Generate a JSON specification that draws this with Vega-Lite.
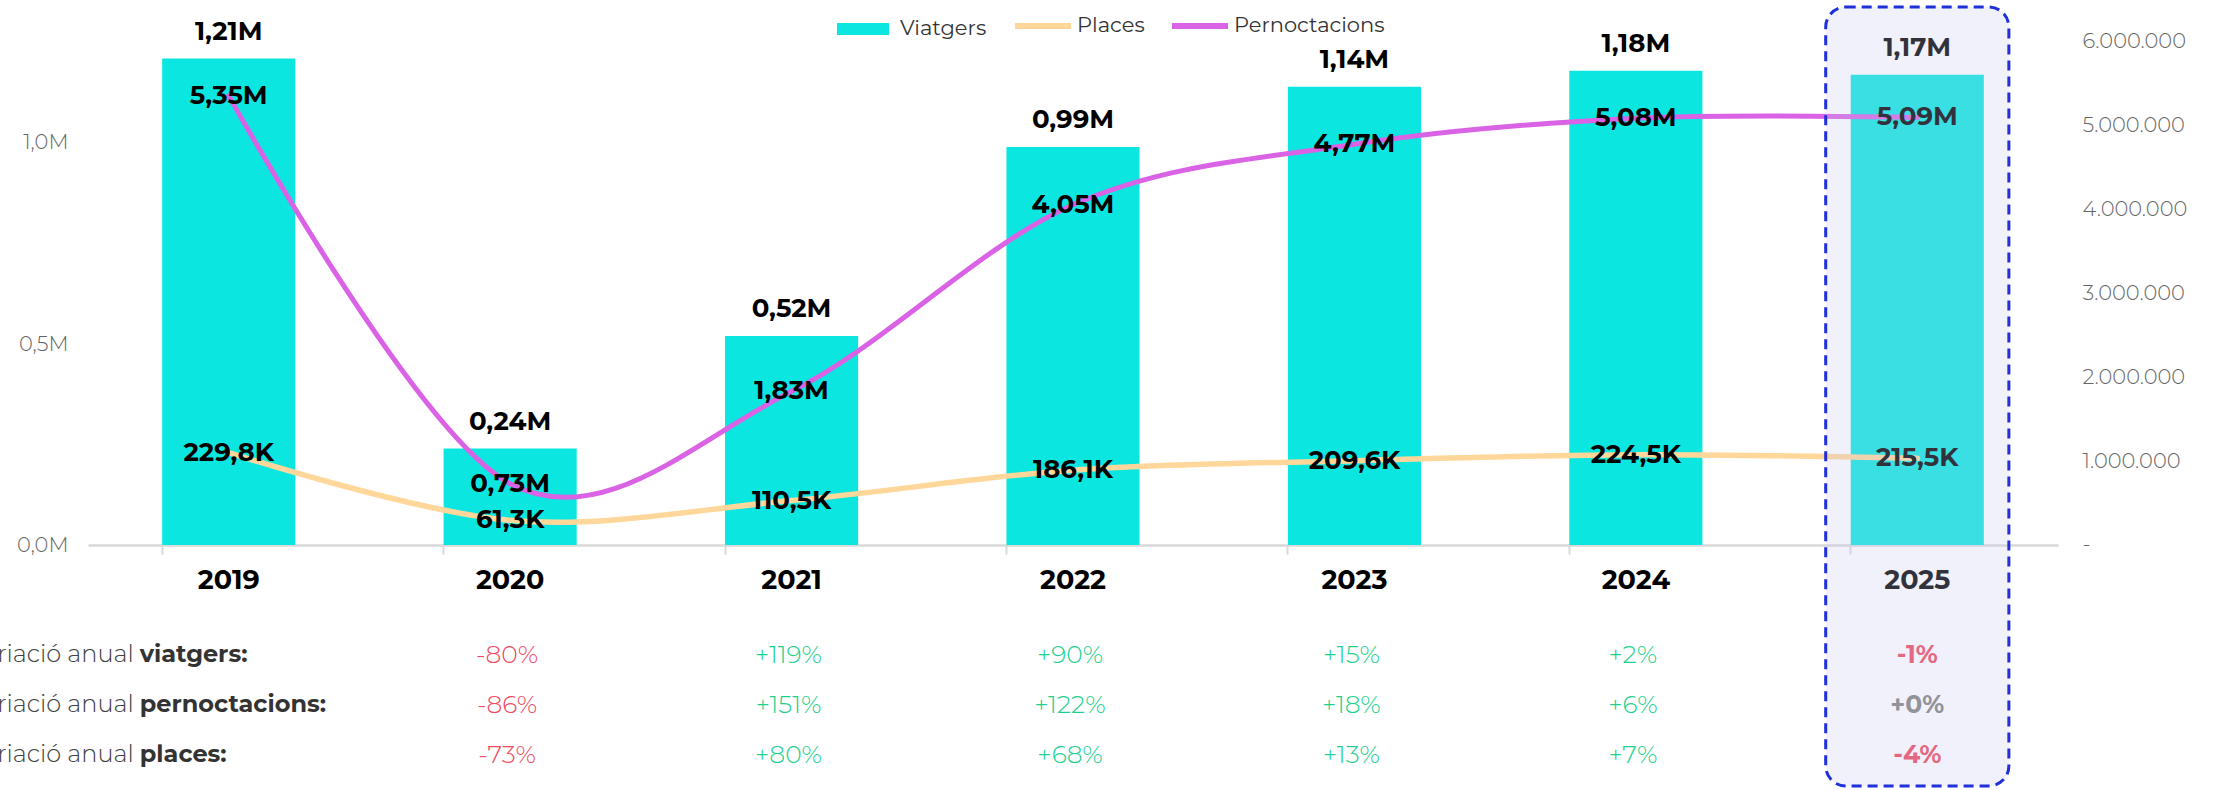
{
  "$schema": "https://vega.github.io/schema/vega-lite/v6.json",
  "width": 1970,
  "height": 790,
  "autosize": {"type": "none"},
  "padding": {"left": 88, "top": 0, "right": 155, "bottom": 0},
  "background": "white",
  "config": {
    "locale": {"number": {"decimal": ",", "thousands": ".", "grouping": [3], "currency": ["", " €"], "minus": "-"}},
    "view": {"stroke": null},
    "font": "Montserrat, Inter, sans-serif"
  },
  "datasets": {
    "main": [
      {"year": 2019, "viatgers": 1210000, "places": 229800, "pernoctacions": 5350000, "vl": "1,21M", "pl": "229,8K", "nl": "5,35M"},
      {"year": 2020, "viatgers": 240000, "places": 61300, "pernoctacions": 730000, "vl": "0,24M", "pl": "61,3K", "nl": "0,73M"},
      {"year": 2021, "viatgers": 520000, "places": 110500, "pernoctacions": 1830000, "vl": "0,52M", "pl": "110,5K", "nl": "1,83M"},
      {"year": 2022, "viatgers": 990000, "places": 186100, "pernoctacions": 4050000, "vl": "0,99M", "pl": "186,1K", "nl": "4,05M"},
      {"year": 2023, "viatgers": 1140000, "places": 209600, "pernoctacions": 4770000, "vl": "1,14M", "pl": "209,6K", "nl": "4,77M"},
      {"year": 2024, "viatgers": 1180000, "places": 224500, "pernoctacions": 5080000, "vl": "1,18M", "pl": "224,5K", "nl": "5,08M"},
      {"year": 2025, "viatgers": 1170000, "places": 215500, "pernoctacions": 5090000, "vl": "1,17M", "pl": "215,5K", "nl": "5,09M"}
    ],
    "table": [
      {"year": 2020, "fila": 1, "pct": -0.80},
      {"year": 2021, "fila": 1, "pct": 1.19},
      {"year": 2022, "fila": 1, "pct": 0.90},
      {"year": 2023, "fila": 1, "pct": 0.15},
      {"year": 2024, "fila": 1, "pct": 0.02},
      {"year": 2025, "fila": 1, "pct": -0.01},
      {"year": 2020, "fila": 2, "pct": -0.86},
      {"year": 2021, "fila": 2, "pct": 1.51},
      {"year": 2022, "fila": 2, "pct": 1.22},
      {"year": 2023, "fila": 2, "pct": 0.18},
      {"year": 2024, "fila": 2, "pct": 0.06},
      {"year": 2025, "fila": 2, "pct": 0.0},
      {"year": 2020, "fila": 3, "pct": -0.73},
      {"year": 2021, "fila": 3, "pct": 0.80},
      {"year": 2022, "fila": 3, "pct": 0.68},
      {"year": 2023, "fila": 3, "pct": 0.13},
      {"year": 2024, "fila": 3, "pct": 0.07},
      {"year": 2025, "fila": 3, "pct": -0.04}
    ],
    "rowlabels": [
      {"year": 2019, "fila": 1, "a": "Variació anual", "b": "viatgers:"},
      {"year": 2019, "fila": 2, "a": "Variació anual", "b": "pernoctacions:"},
      {"year": 2019, "fila": 3, "a": "Variació anual", "b": "places:"}
    ]
  },
  "data": {"name": "main"},
  "encoding": {
    "x": {
      "field": "year",
      "type": "ordinal",
      "scale": {"paddingInner": 0.527, "paddingOuter": 0.2635},
      "axis": {
        "title": null,
        "offset": -245,
        "labelAngle": 0,
        "domainColor": "#D9D9D9",
        "domainWidth": 2.5,
        "tickColor": "#D9D9D9",
        "tickWidth": 2,
        "tickSize": 9,
        "bandPosition": 0,
        "labelFontSize": 27,
        "labelFontWeight": "bold",
        "labelColor": "#000000",
        "labelPadding": 13
      }
    }
  },
  "layer": [
    {
      "layer": [
        {
          "mark": {"type": "bar"},
          "encoding": {
            "y": {
              "field": "viatgers",
              "type": "quantitative",
              "scale": {"domain": [-609450, 1355720], "nice": false, "zero": false},
              "axis": {
                "title": null,
                "values": [0, 500000, 1000000],
                "labelExpr": "format(datum.value / 1000000, '.1f') + 'M'",
                "domain": false,
                "ticks": false,
                "grid": false,
                "labelFontSize": 21,
                "labelFontWeight": 300,
                "labelColor": "#666666",
                "labelPadding": 20
              }
            },
            "fill": {
              "datum": "Viatgers",
              "type": "nominal",
              "scale": {"domain": ["Viatgers"], "range": ["#0BE7E0"]},
              "legend": {
                "orient": "none",
                "legendX": 743,
                "legendY": -3,
                "title": null,
                "padding": 0,
                "symbolType": "stroke",
                "symbolStrokeColor": "#0BE7E0",
                "symbolSize": 2704,
                "symbolStrokeWidth": 12,
                "labelFontSize": 21,
                "labelColor": "#333333",
                "labelOffset": 5
              }
            }
          }
        },
        {
          "mark": {"type": "text", "baseline": "alphabetic", "dy": -19, "fontSize": 26, "fontWeight": "bold", "color": "#000000"},
          "encoding": {
            "y": {"field": "viatgers", "type": "quantitative"},
            "text": {"field": "vl"}
          }
        },
        {
          "mark": {"type": "line", "interpolate": "cardinal", "strokeWidth": 5.5, "strokeCap": "round"},
          "encoding": {
            "y": {"field": "places", "type": "quantitative"},
            "stroke": {
              "datum": "Places",
              "type": "nominal",
              "scale": {"domain": ["Places", "Pernoctacions"], "range": ["#FFD79A", "#DA63E5"]},
              "legend": {
                "orient": "none",
                "legendX": 924,
                "legendY": -5,
                "direction": "horizontal",
                "title": null,
                "padding": 0,
                "symbolType": "stroke",
                "symbolSize": 3136,
                "symbolStrokeWidth": 6,
                "labelFontSize": 21,
                "labelColor": "#333333",
                "labelOffset": 3,
                "columnPadding": 15
              }
            }
          }
        },
        {
          "mark": {"type": "text", "baseline": "middle", "fontSize": 26, "fontWeight": "bold", "color": "#000000"},
          "encoding": {
            "y": {"field": "places", "type": "quantitative"},
            "text": {"field": "pl"}
          }
        }
      ]
    },
    {
      "layer": [
        {
          "mark": {"type": "line", "interpolate": "cardinal", "strokeWidth": 5, "strokeCap": "round"},
          "encoding": {
            "y": {
              "field": "pernoctacions",
              "type": "quantitative",
              "scale": {"domain": [-2916670, 6488100], "nice": false, "zero": false},
              "axis": {
                "orient": "right",
                "title": null,
                "values": [0, 1000000, 2000000, 3000000, 4000000, 5000000, 6000000],
                "labelExpr": "datum.value == 0 ? '-' : format(datum.value, ',d')",
                "domain": false,
                "ticks": false,
                "grid": false,
                "labelFontSize": 21,
                "labelFontWeight": 300,
                "labelColor": "#666666",
                "labelPadding": 24
              }
            },
            "stroke": {"datum": "Pernoctacions", "type": "nominal"}
          }
        },
        {
          "mark": {"type": "text", "baseline": "middle", "fontSize": 26, "fontWeight": "bold", "color": "#000000"},
          "encoding": {
            "y": {"field": "pernoctacions", "type": "quantitative"},
            "text": {"field": "nl"}
          }
        }
      ]
    },
    {
      "data": {"name": "table"},
      "encoding": {
        "y": {
          "field": "fila",
          "type": "quantitative",
          "scale": {"domain": [-12.1, 3.7], "reverse": true, "nice": false, "zero": false},
          "axis": null
        }
      },
      "layer": [
        {
          "transform": [{"filter": "datum.year != 2025"}],
          "mark": {"type": "text", "baseline": "middle", "dx": -3, "fontSize": 25, "fontWeight": 300},
          "encoding": {
            "text": {"field": "pct", "type": "quantitative", "format": "+.0%"},
            "color": {
              "condition": [
                {"test": "datum.pct < 0", "value": "#F04860"},
                {"test": "datum.pct > 0", "value": "#1DD18D"}
              ],
              "value": "#808080"
            }
          }
        },
        {
          "transform": [{"filter": "datum.year == 2025"}],
          "mark": {"type": "text", "baseline": "middle", "fontSize": 25, "fontWeight": "bold"},
          "encoding": {
            "text": {"field": "pct", "type": "quantitative", "format": "+.0%"},
            "color": {
              "condition": [
                {"test": "datum.pct < 0", "value": "#F04860"},
                {"test": "datum.pct > 0", "value": "#1DD18D"}
              ],
              "value": "#808080"
            }
          }
        },
        {
          "data": {"name": "rowlabels"},
          "mark": {"type": "text", "baseline": "middle", "align": "right", "dx": -95, "fontSize": 24, "fontWeight": 300, "color": "#404040"},
          "encoding": {"text": {"field": "a", "type": "nominal"}}
        },
        {
          "data": {"name": "rowlabels"},
          "mark": {"type": "text", "baseline": "middle", "align": "left", "dx": -89, "fontSize": 24, "fontWeight": "bold", "color": "#333333"},
          "encoding": {"text": {"field": "b", "type": "nominal"}}
        }
      ]
    },
    {
      "transform": [{"filter": "datum.year == 2025"}],
      "mark": {
        "type": "bar",
        "width": {"band": 1.376},
        "cornerRadius": 20,
        "fill": "#C2C6EA",
        "fillOpacity": 0.25,
        "stroke": "#1F30D8",
        "strokeWidth": 3,
        "strokeDash": [10, 6]
      },
      "encoding": {
        "y": {
          "datum": 1338300,
          "type": "quantitative",
          "scale": {"domain": [-609450, 1355720], "nice": false, "zero": false},
          "axis": null
        },
        "y2": {"datum": -599500}
      }
    }
  ],
  "resolve": {"scale": {"y": "independent"}}
}
